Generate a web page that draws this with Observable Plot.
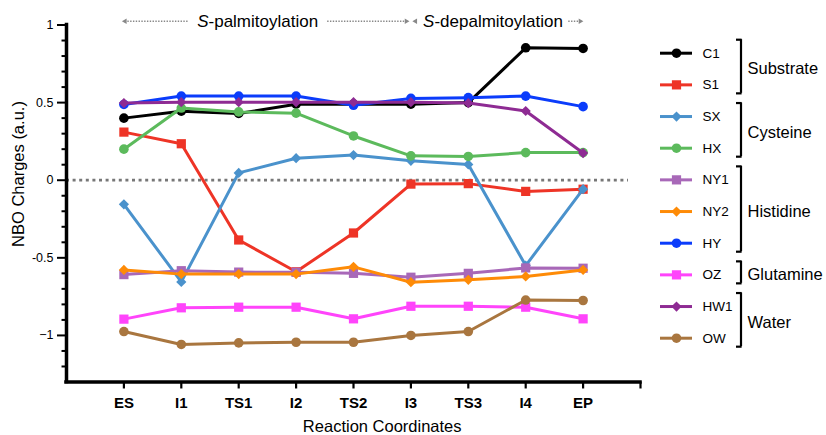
<!DOCTYPE html>
<html>
<head>
<meta charset="utf-8">
<script src="https://cdn.jsdelivr.net/npm/d3@7"></script>
<script src="https://cdn.jsdelivr.net/npm/@observablehq/plot@0.6"></script>
<style>
  html, body { margin: 0; padding: 0; background: #fff; }
  #wrap { position: relative; width: 826px; height: 435px; overflow: hidden; }
  #wrap svg { position: absolute; top: 0; }
</style>
</head>
<body>
<div id="wrap"></div>
<script>
// ---- data ----
const X_LABELS = ["ES", "I1", "TS1", "I2", "TS2", "I3", "TS3", "I4", "EP"];
const SERIES = ["C1", "S1", "SX", "HX", "NY1", "NY2", "HY", "OZ", "HW1", "OW"];
const C1  = [0.40, 0.445, 0.43, 0.49, 0.49, 0.49, 0.50, 0.853, 0.849];
const S1  = [0.31, 0.235, -0.385, -0.59, -0.34, -0.025, -0.022, -0.072, -0.058];
const SX  = [-0.155, -0.655, 0.047, 0.142, 0.162, 0.125, 0.102, -0.55, -0.058];
const HX  = [0.20, 0.465, 0.44, 0.432, 0.285, 0.157, 0.153, 0.178, 0.178];
const NY1 = [-0.608, -0.583, -0.592, -0.593, -0.60, -0.625, -0.60, -0.565, -0.567];
const NY2 = [-0.578, -0.605, -0.605, -0.605, -0.558, -0.657, -0.642, -0.62, -0.578];
const HY  = [0.488, 0.542, 0.542, 0.542, 0.483, 0.527, 0.532, 0.542, 0.474];
const OZ  = [-0.895, -0.822, -0.818, -0.818, -0.893, -0.812, -0.812, -0.818, -0.893];
const HW1 = [0.497, 0.503, 0.503, 0.503, 0.503, 0.503, 0.497, 0.446, 0.175];
const OW  = [-0.975, -1.058, -1.048, -1.044, -1.044, -1.0, -0.975, -0.772, -0.775];
const VALUES = { C1, S1, SX, HX, NY1, NY2, HY, OZ, HW1, OW };

const Y_TICKS = [1, 0.5, 0, -0.5, -1];
const Y_TICK_LABELS = ["1", "0.5", "0", "-0.5", "\u22121"];
const Y_MINOR = [0.9, 0.8, 0.7, 0.6, 0.4, 0.3, 0.2, 0.1, -0.1, -0.2, -0.3, -0.4, -0.6, -0.7, -0.8, -0.9, -1.1, -1.2];

const GROUPS = ["Substrate", "Cysteine", "Histidine", "Glutamine", "Water"];
const GROUP_FIRST = [0, 2, 4, 7, 8];
const GROUP_LAST = [1, 3, 6, 7, 9];

const PHASES = ["S-palmitoylation", "S-depalmitoylation"];

// ---- styles ----
const COLORS = {
  C1: "#000000", S1: "#ee3426", SX: "#4a92cc", HX: "#5cba5c", NY1: "#a868b8",
  NY2: "#fe8b07", HY: "#0b3cfb", OZ: "#ff44fb", HW1: "#8e2b93", OW: "#a9763f"
};
const SYMBOLS = {
  C1: "circle", S1: "square", SX: "diamond2", HX: "circle", NY1: "square",
  NY2: "diamond2", HY: "circle", OZ: "square", HW1: "diamond2", OW: "circle"
};
const RADIUS = { circle: 4.8, square: 5.2, diamond2: 4.6 };
const FONT = '"Liberation Sans", Arial, Helvetica, sans-serif';

// ---- main chart ----
const marks = [];
marks.push(Plot.ruleY([0], { x1: -1, x2: 8.79, stroke: "#777", strokeWidth: 2.8, strokeDasharray: "3,3.6" }));

SERIES.forEach(name => {
  const rows = X_LABELS.map((lab, i) => ({ i, v: VALUES[name][i] }));
  marks.push(Plot.line(rows, { x: "i", y: "v", stroke: COLORS[name], strokeWidth: 3 }));
  marks.push(Plot.dot(rows, { x: "i", y: "v", symbol: SYMBOLS[name], r: RADIUS[SYMBOLS[name]], fill: COLORS[name], stroke: "none" }));
});

// axes
marks.push(Plot.ruleX([-1], { y1: -1.3, y2: 1, strokeWidth: 3.5, strokeLinecap: "square" }));
marks.push(Plot.ruleY([-1.3], { x1: -1, x2: 9, strokeWidth: 3.5, strokeLinecap: "square" }));
marks.push(Plot.ruleY(Y_TICKS, { y: d => d, x1: -1, x2: -1.157, strokeWidth: 2 }));
marks.push(Plot.ruleY(Y_MINOR, { y: d => d, x1: -1, x2: -1.078, strokeWidth: 2 }));
marks.push(Plot.text(Y_TICKS, { x: -1, y: d => d, text: (d, i) => Y_TICK_LABELS[i], dx: -13, textAnchor: "end", fontSize: 12.5 }));
const xTickPos = X_LABELS.map((d, i) => i).concat([9]);
marks.push(Plot.ruleX(xTickPos, { x: d => d, y1: -1.3, y2: -1.345, strokeWidth: 2.2 }));
marks.push(Plot.text(X_LABELS, { x: (d, i) => i, y: -1.3, text: d => d, dy: 21, fontSize: 15, fontWeight: "bold" }));
marks.push(Plot.text(["Reaction Coordinates"], { x: 4.5, y: -1.3, text: d => d, dy: 45, fontSize: 16.5 }));
marks.push(Plot.text(["NBO Charges (a.u.)"], { x: -1, y: 0.04, text: d => d, dx: -48, rotate: -90, fontSize: 16.5 }));

// phase annotations
marks.push(Plot.ruleY([{ a: 0.02, b: 1.13 }, { a: 3.55, b: 4.9 }, { a: 7.75, b: 7.93 }],
  { y: 1.024, x1: "a", x2: "b", stroke: "#888", strokeWidth: 1.6, strokeDasharray: "1.4,1.4" }));
marks.push(Plot.dot([{ x: 0.02, r: -90 }, { x: 4.92, r: 90 }, { x: 5.08, r: -90 }, { x: 7.95, r: 90 }],
  { x: "x", y: 1.024, rotate: "r", symbol: "triangle2", r: 2.6, fill: "#888", stroke: "none" }));
marks.push(Plot.text(PHASES, { x: (d, i) => [2.33, 6.43][i], y: 1.024, text: d => d, fontSize: 17 }));

const chart = Plot.plot({
  width: 826, height: 435,
  marginLeft: 66, marginRight: 186, marginTop: 24.5, marginBottom: 53.5,
  x: { domain: [-1, 9], axis: null },
  y: { domain: [-1.3, 1], axis: null },
  style: { fontFamily: FONT, background: "white", overflow: "visible", color: "black" },
  marks
});

// italic "S" prefix
chart.querySelectorAll("text").forEach(t => {
  const s = t.textContent;
  if (PHASES.includes(s)) {
    t.textContent = "";
    const ns = "http://www.w3.org/2000/svg";
    const it = document.createElementNS(ns, "tspan");
    it.setAttribute("font-style", "italic");
    it.textContent = s.slice(0, 1);
    t.appendChild(it);
    t.appendChild(document.createTextNode(s.slice(1)));
  }
});

// ---- legend ----
const lmarks = [];
SERIES.forEach((name, k) => {
  lmarks.push(Plot.ruleY([k], { y: d => d, x1: 20, x2: 52, stroke: COLORS[name], strokeWidth: 3 }));
  lmarks.push(Plot.dot([k], { x: 36, y: d => d, symbol: SYMBOLS[name], r: RADIUS[SYMBOLS[name]], fill: COLORS[name], stroke: "none" }));
  lmarks.push(Plot.text([name], { x: 62, y: () => k, text: d => d, textAnchor: "start", fontSize: 13.5 }));
});
const grows = GROUPS.map((g, i) => ({ g, top: GROUP_FIRST[i] - 0.426, bot: GROUP_LAST[i] + 0.268, mid: (GROUP_FIRST[i] + GROUP_LAST[i]) / 2 }));
lmarks.push(Plot.ruleX(grows, { x: 100.5, y1: "top", y2: "bot", strokeWidth: 2.2 }));
lmarks.push(Plot.ruleY(grows, { y: "top", x1: 96, x2: 101.6, strokeWidth: 2.2 }));
lmarks.push(Plot.ruleY(grows, { y: "bot", x1: 96, x2: 101.6, strokeWidth: 2.2 }));
lmarks.push(Plot.text(grows, { x: 107, y: "mid", text: "g", textAnchor: "start", fontSize: 16.5 }));

const legend = Plot.plot({
  width: 186, height: 435,
  margin: 0,
  x: { domain: [0, 186], range: [0, 186], axis: null },
  y: { domain: [0, 9], range: [52.7, 337.7], axis: null },
  style: { fontFamily: FONT, background: "none", overflow: "visible", color: "black" },
  marks: lmarks
});
legend.style.left = "640px";

const wrap = document.getElementById("wrap");
chart.style.left = "0px";
wrap.appendChild(chart);
wrap.appendChild(legend);
</script>
</body>
</html>
